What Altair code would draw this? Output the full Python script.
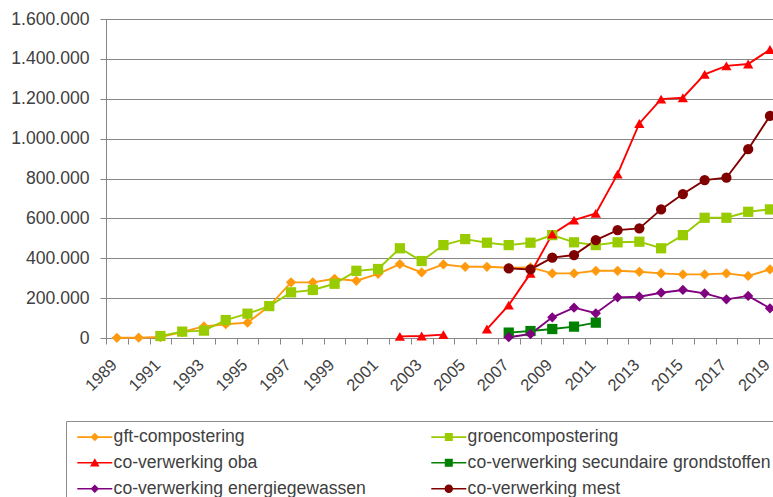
import altair as alt
import pandas as pd

# Verwerkte hoeveelheden per jaar (ton)
years = list(range(1989, 2020))

gft = [1000, 1500, 5000, 30000, 58000, 69000, 77000, 160000, 279000, 279000,
       297000, 287000, 322000, 371000, 329000, 369000, 357000, 357000, 352000, 354000,
       324000, 324000, 337000, 337000, 332000, 324000, 319000, 319000, 324000, 311000,
       344000]

groen = [None, None, 10000, 32000, 37000, 90000, 122000, 160000, 229000, 241000,
         272000, 337000, 346000, 450000, 386000, 466000, 496000, 478000, 466000, 478000,
         516000, 480000, 466000, 480000, 483000, 450000, 516000, 603000, 603000, 633000,
         645000]

oba = [None] * 13 + [8000, 10000, 17000, None, 45000, 165000, 324000, 521000, 591000,
                     625000, 822000, 1076000, 1198000, 1205000, 1322000, 1365000, 1374000,
                     1447000]

secundair = [None] * 18 + [27000, 35000, 45000, 57000, 77000] + [None] * 8

energie = [None] * 18 + [4000, 20000, 104000, 152000, 124000, 204000, 207000, 227000,
                         241000, 224000, 194000, 211000, 149000]

mest = [None] * 18 + [349000, 344000, 403000, 416000, 491000, 541000, 550000, 645000,
                      722000, 792000, 804000, 947000, 1114000]

names = [
    "gft-compostering",
    "groencompostering",
    "co-verwerking oba",
    "co-verwerking secundaire grondstoffen",
    "co-verwerking energiegewassen",
    "co-verwerking mest",
]
series = [gft, groen, oba, secundair, energie, mest]
colors = ["#FF9A0E", "#99CC00", "#FF0000", "#008000", "#800080", "#800000"]
shapes = ["diamond", "square", "triangle-up", "square", "diamond", "circle"]

# Legend glyphs: a short line with the series marker in the middle
# (drawn right of the symbol anchor, in units of half the symbol size)
bar = "M-0.9,-0.16H6.1V0.16H-0.9Z"
glyphs = {
    "diamond": "M2.6,-0.85L3.45,0L2.6,0.85L1.75,0Z",
    "square": "M1.8,-0.8H3.4V0.8H1.8Z",
    "triangle-up": "M2.6,-0.9L3.55,0.75H1.65Z",
    "circle": "M3.45,0A0.85,0.85 0 1,1 1.75,0A0.85,0.85 0 1,1 3.45,0Z",
}
legend_shapes = [bar + glyphs[s] for s in shapes]

# The legend is filled column by column: two columns of three rows
legend_order = [0, 2, 4, 1, 3, 5]
legend_names = [names[i] for i in legend_order]
legend_colors = [colors[i] for i in legend_order]
legend_glyphs = [legend_shapes[i] for i in legend_order]

rows = []
for name, vals in zip(names, series):
    seg = 0
    prev_missing = True
    for yr, v in zip(years, vals):
        if v is None:
            prev_missing = True
            continue
        if prev_missing:
            seg += 1
            prev_missing = False
        rows.append({"jaar": yr, "ton": v, "reeks": name, "deel": f"{name}-{seg}"})
df = pd.DataFrame(rows)

FONT = "Liberation Sans"
TEXT = "#404040"
GRID = "#868686"

x_scale = alt.Scale(domain=[1988.5, 2019.14], nice=False, zero=False)
y_scale = alt.Scale(domain=[0, 1600000], nice=False)
color_scale = alt.Scale(domain=names, range=colors)

half_years = [y - 0.5 for y in range(1989, 2021)]
label_years = list(range(1989, 2020, 2))

x_axis = alt.Axis(
    values=half_years + label_years,
    title=None,
    grid=False,
    domainColor=GRID,
    tickColor=GRID,
    tickSize=6,
    tickOpacity={"condition": {"test": "datum.value % 1 != 0", "value": 1}, "value": 0},
    labelExpr="datum.value % 2 == 1 ? format(datum.value, 'd') : ''",
    labelAngle=-45,
    labelAlign="right",
    labelBaseline="middle",
    labelPadding=18,
    labelOffset=-3,
    labelOverlap=False,
    labelFlush=False,
    labelBound=False,
    labelFont=FONT,
    labelFontSize=16.5,
    labelColor=TEXT,
)

y_axis = alt.Axis(
    values=list(range(0, 1600001, 200000)),
    title=None,
    grid=True,
    gridColor=GRID,
    gridWidth=1,
    domainColor=GRID,
    tickColor=GRID,
    tickSize=6,
    labelPadding=11,
    labelExpr="replace(format(datum.value, ',d'), regexp(',', 'g'), '.')",
    labelFont=FONT,
    labelFontSize=17.6,
    labelColor=TEXT,
)

x_enc = alt.X("jaar:Q", scale=x_scale, axis=x_axis)
y_enc = alt.Y("ton:Q", scale=y_scale, axis=y_axis)

lines = alt.Chart(df).mark_line(strokeWidth=1.9).encode(
    x=x_enc,
    y=y_enc,
    color=alt.Color("reeks:N", scale=color_scale, legend=None),
    detail="deel:N",
)

points = alt.Chart(df).mark_point(filled=True, opacity=1, size=105).encode(
    x=x_enc,
    y=y_enc,
    color=alt.Color("reeks:N", scale=color_scale, legend=None),
    shape=alt.Shape("reeks:N", scale=alt.Scale(domain=names, range=shapes), legend=None),
)

plot = alt.layer(lines, points)

legend_layer = alt.Chart(df).transform_filter("false").mark_point(
    filled=True, opacity=1
).encode(
    x=x_enc,
    y=y_enc,
    color=alt.Color(
        "reeks:N",
        scale=alt.Scale(domain=legend_names, range=legend_colors),
        legend=alt.Legend(
            orient="none",
            legendX=-40,
            legendY=402,
            columns=2,
            title=None,
            labelFont=FONT,
            labelFontSize=17.6,
            labelColor=TEXT,
            labelLimit=0,
            labelOffset=23,
            symbolSize=100,
            symbolStrokeWidth=0,
            strokeColor="#8C8C8C",
            fillColor="white",
            padding=7,
            rowPadding=7,
            columnPadding=61,
        ),
    ),
    shape=alt.Shape("reeks:N", scale=alt.Scale(domain=legend_names, range=legend_glyphs)),
)

chart = (
    alt.layer(plot, legend_layer)
    .resolve_scale(color="independent", shape="independent")
    .properties(
        width=667,
        height=319,
        autosize="none",
        padding={"left": 106, "top": 19, "right": 0, "bottom": 159},
        background="white",
    )
    .configure_view(stroke=None)
    .configure_legend(strokeColor="#8C8C8C", strokeWidth=1)
)

chart.save("out.html", embed_options={"renderer": "svg", "actions": False})
